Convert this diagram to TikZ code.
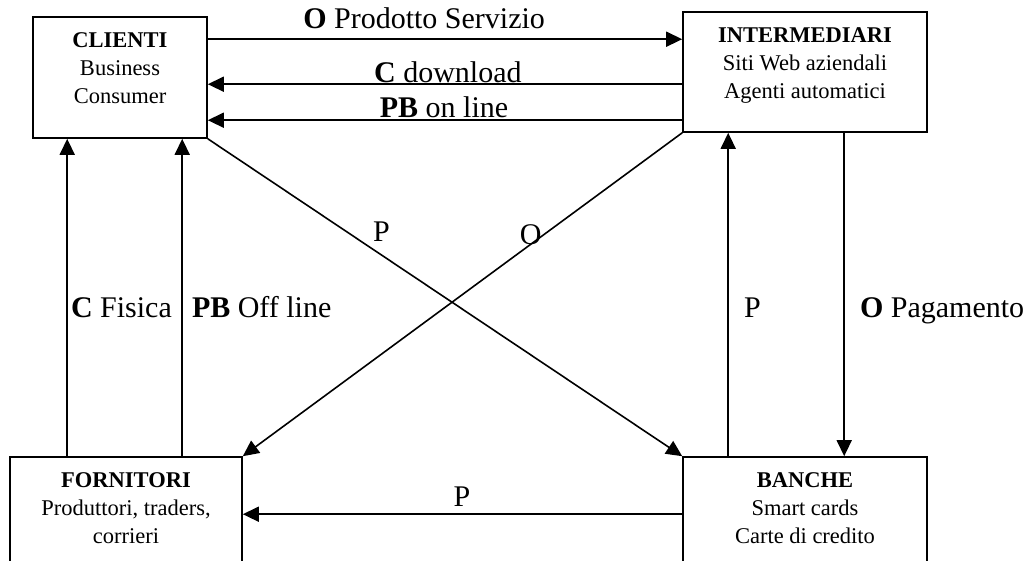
\documentclass[tikz,border=0pt]{standalone}
\usepackage{fontspec}
\setmainfont{Liberation Serif}
\usetikzlibrary{arrows.meta}
\tikzset{
  boxnode/.style={draw, line width=1.6pt, inner sep=0pt},
  conn/.style={line width=1.6pt, -{Triangle[length=16pt,width=15pt]}},
  lab/.style={inner sep=0pt, font=\fontsize{30}{36}\selectfont},
}
\newcommand{\boxtext}[3]{\parbox[c][#2][t]{#1}{\centering\fontsize{22.5}{28}\selectfont\rule{0pt}{30pt}#3}}
\begin{document}
\begin{tikzpicture}[x=1pt,y=-1pt]
\useasboundingbox (0,0) rectangle (1031,560);
\clip (0,0) rectangle (1031,560);
\fill[white] (0,0) rectangle (1031,560);
\node[boxnode] (cli) at (120,77.5) {\boxtext{174pt}{121pt}{\textbf{CLIENTI}\\Business\\Consumer}};
\node[boxnode] (int) at (805,72) {\boxtext{244pt}{120pt}{\textbf{INTERMEDIARI}\\Siti Web aziendali\\Agenti automatici}};
\node[boxnode] (forn) at (126,523.5) {\boxtext{232pt}{133pt}{\textbf{FORNITORI}\\Produttori, traders,\\corrieri}};
\node[boxnode] (ban) at (805,523.5) {\boxtext{244pt}{133pt}{\textbf{BANCHE}\\Smart cards\\Carte di credito}};

\draw[conn] ([yshift=-23pt]cli.north east) -- ([yshift=-23pt]cli.north east -| int.west)
  node[lab,pos=0.456,anchor=base,yshift=11pt]{\textbf{O} Prodotto Servizio};
\draw[conn] ([yshift=-73pt]int.north west) -- ([yshift=-73pt]int.north west -| cli.east)
  node[lab,pos=0.494,anchor=base,yshift=2pt]{\textbf{C} download};
\draw[conn] ([yshift=-109pt]int.north west) -- ([yshift=-109pt]int.north west -| cli.east)
  node[lab,pos=0.502,anchor=base,yshift=3pt]{\textbf{PB} on line};

\draw[conn] (cli.south east) -- (ban.north west)
  node[lab,pos=0.366,anchor=base,yshift=13pt]{P};
\draw[conn] (int.south west) -- (forn.north east)
  node[lab,pos=0.345,anchor=base]{O};

\draw[conn] ([xshift=58pt]forn.north west) -- ([xshift=58pt]forn.north west |- cli.south)
  node[lab,pos=0.436,anchor=base west,xshift=3pt]{\textbf{C} Fisica};
\draw[conn] ([xshift=173pt]forn.north west) -- ([xshift=173pt]forn.north west |- cli.south)
  node[lab,pos=0.436,anchor=base west,xshift=9pt]{\textbf{PB} Off line};
\draw[conn] ([xshift=46pt]ban.north west) -- ([xshift=46pt]ban.north west |- int.south)
  node[lab,pos=0.428,anchor=base west,xshift=15pt]{P};
\draw[conn] ([xshift=162pt]int.south west) -- ([xshift=162pt]int.south west |- ban.north)
  node[lab,pos=0.572,anchor=base west,xshift=15pt]{\textbf{O} Pagamento};

\draw[conn] ([yshift=-58pt]ban.north west) -- ([yshift=-58pt]ban.north west -| forn.east)
  node[lab,pos=0.501,anchor=base,yshift=8pt]{P};
\end{tikzpicture}
\end{document}
